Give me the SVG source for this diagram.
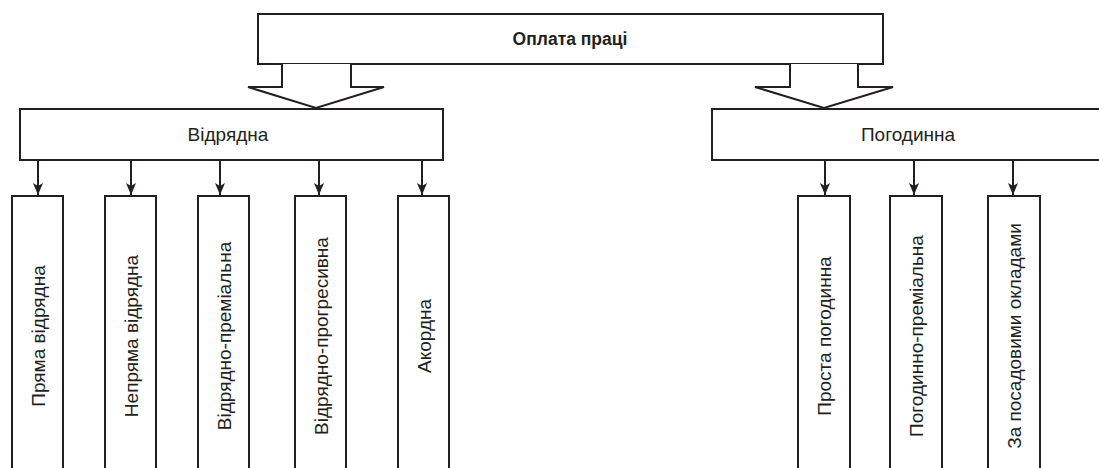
<svg xmlns="http://www.w3.org/2000/svg" width="1099" height="468" viewBox="0 0 1099 468">
<defs>
<style>
.box{fill:#fff;stroke:#231f20;stroke-width:2}
.ln{fill:none;stroke:#231f20;stroke-width:2}
.t{font-family:"Liberation Sans",Arial,sans-serif;font-size:19px;fill:#231f20;text-anchor:middle}
.tb{font-family:"Liberation Sans",Arial,sans-serif;font-size:17.5px;font-weight:bold;fill:#231f20;text-anchor:middle}
</style>
<marker id="ah" markerUnits="userSpaceOnUse" markerWidth="12" markerHeight="14" refX="12" refY="5" orient="auto">
<path d="M0,0 L12,5 L0,10 L3,5 Z" fill="#231f20"/>
</marker>
</defs>
<rect width="1099" height="468" fill="#fff"/>
<g id="root">
<rect class="box" x="258" y="14" width="625" height="50"/>
<text class="tb" x="570" y="45">Оплата праці</text>
</g>
<g id="connectors">
<polyline class="box" points="282,64 282,87 248,87 316,108 384,87 351,87 351,64"/>
<polyline class="box" points="790,64 790,87 755,87 824,108 893,87 858,87 858,64"/>
<line class="ln" x1="38" y1="160" x2="38" y2="195" marker-end="url(#ah)"/>
<line class="ln" x1="131" y1="160" x2="131" y2="195" marker-end="url(#ah)"/>
<line class="ln" x1="220" y1="160" x2="220" y2="195" marker-end="url(#ah)"/>
<line class="ln" x1="319" y1="160" x2="319" y2="195" marker-end="url(#ah)"/>
<line class="ln" x1="422" y1="160" x2="422" y2="195" marker-end="url(#ah)"/>
<line class="ln" x1="825" y1="160" x2="825" y2="195" marker-end="url(#ah)"/>
<line class="ln" x1="914" y1="160" x2="914" y2="195" marker-end="url(#ah)"/>
<line class="ln" x1="1013" y1="160" x2="1013" y2="195" marker-end="url(#ah)"/>
</g>
<g id="vidriadna">
<rect class="box" x="20" y="109" width="423" height="51"/>
<text class="t" x="228" y="141">Відрядна</text>
</g>
<g id="pohodynna">
<rect class="box" x="712" y="109" width="400" height="51"/>
<text class="t" x="908" y="141">Погодинна</text>
</g>
<g id="n1">
<rect class="box" x="12" y="196" width="51" height="280"/>
<text class="t" transform="translate(44.5,336) rotate(-90)">Пряма відрядна</text>
</g>
<g id="n2">
<rect class="box" x="105" y="196" width="51" height="280"/>
<text class="t" transform="translate(137.5,336) rotate(-90)">Непряма відрядна</text>
</g>
<g id="n3">
<rect class="box" x="198" y="196" width="51" height="280"/>
<text class="t" transform="translate(230.5,336) rotate(-90)">Відрядно-преміальна</text>
</g>
<g id="n4">
<rect class="box" x="295" y="196" width="51" height="280"/>
<text class="t" transform="translate(327.5,336) rotate(-90)">Відрядно-прогресивна</text>
</g>
<g id="n5">
<rect class="box" x="398" y="196" width="51" height="280"/>
<text class="t" transform="translate(430.5,336) rotate(-90)">Акордна</text>
</g>
<g id="n6">
<rect class="box" x="798" y="196" width="52" height="280"/>
<text class="t" transform="translate(831,336) rotate(-90)">Проста погодинна</text>
</g>
<g id="n7">
<rect class="box" x="890" y="196" width="52" height="280"/>
<text class="t" transform="translate(923,336) rotate(-90)">Погодинно-преміальна</text>
</g>
<g id="n8">
<rect class="box" x="988" y="196" width="52" height="280"/>
<text class="t" transform="translate(1021,336) rotate(-90)">За посадовими окладами</text>
</g>
</svg>
